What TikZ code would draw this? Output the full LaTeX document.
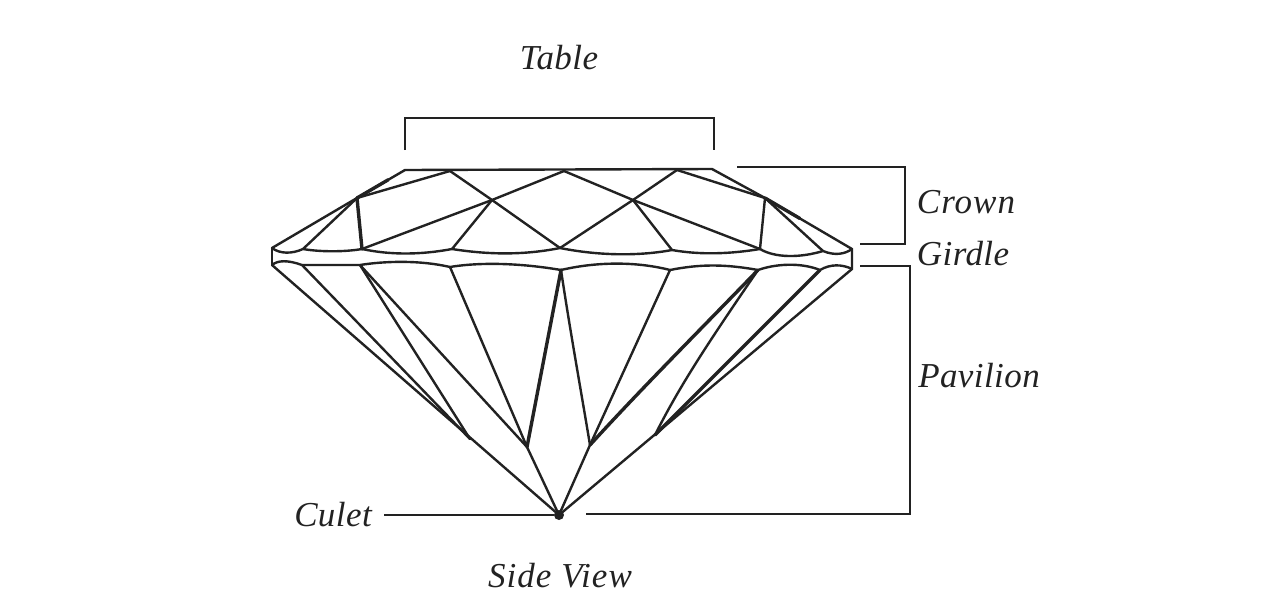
\documentclass[tikz,border=0pt]{standalone}
\usepackage{fontspec}
\setmainfont{Liberation Serif}
\usetikzlibrary{calc}
\definecolor{ink}{HTML}{222222}
\tikzset{
  facet/.style={draw=ink,line width=2.4pt,line join=round,line cap=round},
  heavy/.style={draw=ink,line width=3.4pt,line join=round,line cap=round},
  bracket/.style={draw=ink,line width=2.3pt,line join=miter},
  lab/.style={font=\fontsize{35}{40}\selectfont\itshape\addfontfeature{LetterSpace=1.2},text=ink,inner sep=0pt,anchor=center},
  widelab/.style={lab,font=\fontsize{35}{40}\selectfont\itshape\addfontfeature{LetterSpace=3}}
}
\begin{document}
\begin{tikzpicture}[x=1pt,y=-1pt]
\useasboundingbox (0,0) rectangle (1284,600);
% crown
\coordinate (TL) at (405,170);
\coordinate (T1) at (450,171);
\coordinate (T2) at (564,171);
\coordinate (T3) at (677,170);
\coordinate (TR) at (712,169);
\coordinate (KL) at (357,198);
\coordinate (KR) at (765,198);
\coordinate (XL) at (492,200);
\coordinate (XR) at (633,200);
\coordinate (GL) at (272,248);
\coordinate (GR) at (852,249);
\coordinate (A1) at (303,249);
\coordinate (A2) at (362,249);
\coordinate (A3) at (452,249);
\coordinate (A4) at (560,248);
\coordinate (A5) at (672,250);
\coordinate (A6) at (760,249);
\coordinate (A7) at (823,251);
% girdle lower
\coordinate (BL) at (272,265);
\coordinate (BR) at (852,269);
\coordinate (B1) at (302,265);
\coordinate (B2) at (360,265);
\coordinate (B3) at (450,267);
\coordinate (B4) at (561,270);
\coordinate (B5) at (670,270);
\coordinate (B6) at (758,270);
\coordinate (B7) at (820,270);
% pavilion
\coordinate (C) at (559,515);
\coordinate (P1) at (470,439);
\coordinate (P2) at (527,447);
\coordinate (P3) at (590,445);
\coordinate (P4) at (655,435);
% crown outline
\draw[facet] (GL) -- (KL) -- (TL) -- (TR) -- (KR) -- (GR) -- (BR);
\draw[facet] (GL) -- (BL);
\draw[heavy] (KL) -- ($(KL)!0.65!(TL)$);
\draw[heavy] (KR) -- ($(KR)!0.4!(GR)$);
% crown facets
\draw[facet] (KL) -- (T1);
\draw[facet] (KL) -- (A1);
\draw[heavy] (KL) -- (A2);
\draw[facet] (A2) -- (XL) -- (T2);
\draw[facet] (T1) -- (XL) -- (A4);
\draw[facet] (XL) -- (A3);
\draw[facet] (T2) -- (XR) -- (A6);
\draw[facet] (T3) -- (XR) -- (A4);
\draw[facet] (XR) -- (A5);
\draw[facet] (T3) -- (KR);
\draw[facet] (KR) -- (A6);
\draw[facet] (KR) -- (A7);
% girdle upper
\draw[facet] (GL) .. controls (280,254) and (292,254) .. (A1)
  .. controls (320,252) and (345,252) .. (A2)
  .. controls (390,255) and (420,255) .. (A3)
  .. controls (490,255) and (525,255) .. (A4)
  .. controls (600,256) and (640,256) .. (A5)
  .. controls (700,255) and (730,254) .. (A6)
  .. controls (775,258) and (800,258) .. (A7)
  .. controls (835,256) and (845,254) .. (GR);
% girdle lower
\draw[facet] (BL) .. controls (278,260) and (288,260) .. (B1)
  -- (B2)
  .. controls (385,261) and (420,260) .. (B3)
  .. controls (480,262) and (520,263) .. (B4)
  .. controls (595,262) and (635,261) .. (B5)
  .. controls (700,264) and (725,264) .. (B6)
  .. controls (775,264) and (800,262) .. (B7)
  .. controls (830,264) and (842,264) .. (BR);
% pavilion
\draw[facet] (BL) -- (C);
\draw[facet] (BR) -- (C);
\draw[facet] (B1) -- (P1);
\draw[facet] (B2) -- (P1);
\draw[facet] (B2) -- (P2);
\draw[facet] (B3) -- (P2);
\draw[heavy] (B4) -- (P2);
\draw[facet] (B4) .. controls (570,330) and (580,385) .. (P3);
\draw[facet] (B5) -- (P3);
\draw[heavy] (B6) .. controls (700,330) and (640,390) .. (P3);
\draw[facet] (B6) .. controls (710,340) and (680,385) .. (P4);
\draw[heavy] (B7) -- (P4);
\draw[facet] (P2) -- (C);
\draw[facet] (P3) -- (C);
\node[circle,fill=ink,minimum size=10pt,inner sep=0pt] (dot) at (C) {};
% brackets
\coordinate (ta) at (405,150);
\coordinate (tb) at (405,118);
\coordinate (tc) at (714,118);
\coordinate (td) at (714,150);
\draw[bracket] (ta) -- (tb) -- (tc) -- (td);
\coordinate (ca) at (737,167);
\coordinate (cb) at (905,167);
\coordinate (cc) at (905,244);
\coordinate (cd) at (860,244);
\draw[bracket] (ca) -- (cb) -- (cc) -- (cd);
\coordinate (pa) at (860,266);
\coordinate (pb) at (910,266);
\coordinate (pc) at (910,514);
\coordinate (pd) at (586,514);
\draw[bracket] (pa) -- (pb) -- (pc) -- (pd);
\coordinate (cu) at (384,515);
\draw[bracket] (cu) -- (dot);
% labels
\node[lab] (table) at (559,58) {Table};
\node[widelab] (crown) at (966,202) {Crown};
\node[lab] (girdle) at (963,254) {Girdle};
\node[lab] (pavilion) at (979,376) {Pavilion};
\node[lab] (culet) at (333,515) {Culet};
\node[widelab] (side) at (560,576) {Side View};
\end{tikzpicture}
\end{document}
